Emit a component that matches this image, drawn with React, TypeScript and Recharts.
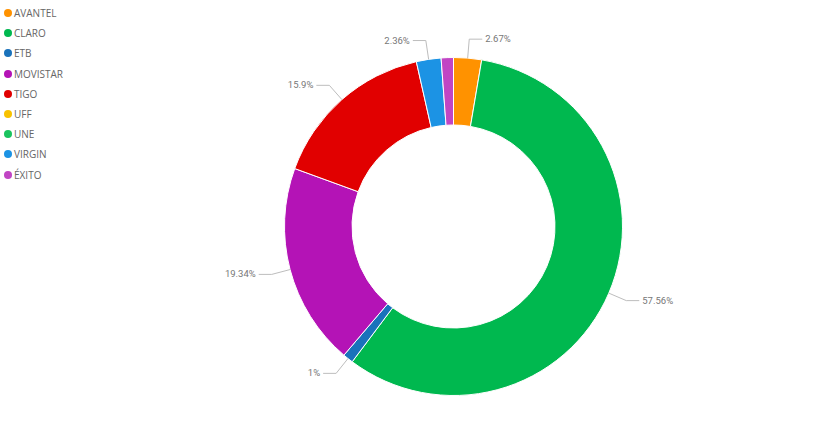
import { PieChart, Pie, Cell } from "recharts"

const OPERATORS = ["AVANTEL", "CLARO", "ETB", "MOVISTAR", "TIGO", "UFF", "UNE", "VIRGIN", "ÉXITO"]
const SHARES = [2.67, 57.56, 1, 19.34, 15.9, 0, 0, 2.36, 1.17]
const SHARE_LABELS = ["2.67%", "57.56%", "1%", "19.34%", "15.9%", "", "", "2.36%", ""]
const COLORS = ["#FF9200", "#00B84F", "#1A72BB", "#B413B6", "#E10000", "#F8C200", "#1AC35E", "#1C93E4", "#C145C4"]

const data = OPERATORS.map((name, i) => ({
  name,
  value: SHARES[i],
  label: SHARE_LABELS[i],
}))

const RAD = Math.PI / 180

function LeaderLabel(props: any) {
  const { cx, cy, midAngle, outerRadius, index } = props
  const text = SHARE_LABELS[index]
  if (!text) return null
  const cos = Math.cos(-midAngle * RAD)
  const sin = Math.sin(-midAngle * RAD)
  const x0 = cx + outerRadius * cos
  const y0 = cy + outerRadius * sin
  const x1 = cx + (outerRadius + 19) * cos
  const y1 = cy + (outerRadius + 19) * sin
  const right = cos >= 0
  const x2 = x1 + (right ? 13 : -13)
  return (
    <g>
      <polyline
        points={`${x0},${y0} ${x1},${y1} ${x2},${y1}`}
        fill="none"
        stroke="#bdbdbd"
        strokeWidth={1}
      />
      <text
        x={x2 + (right ? 3 : -3)}
        y={y1}
        dy={3}
        textAnchor={right ? "start" : "end"}
        fill="#777"
        fontSize={9.5}
        fontFamily="Roboto, sans-serif"
      >
        {text}
      </text>
    </g>
  )
}

function LegendList() {
  return (
    <div
      style={{
        position: "absolute",
        left: 0,
        top: 3,
        fontFamily: "'Open Sans', sans-serif",
        fontSize: 10,
        color: "#666",
      }}
    >
      {OPERATORS.map((name, i) => (
        <div
          key={name}
          style={{ display: "flex", alignItems: "center", height: 20.2, lineHeight: "20px" }}
        >
          <span
            style={{
              display: "inline-block",
              width: 8,
              height: 8,
              borderRadius: 4,
              background: COLORS[i],
              marginLeft: 4,
              marginRight: 2,
            }}
          />
          <span>{name}</span>
        </div>
      ))}
    </div>
  )
}

export default function App() {
  return (
    <div style={{ position: "absolute", left: 0, top: 0, width: 838, height: 421, background: "#fff" }}>
      <PieChart width={838} height={421} margin={{ top: 0, right: 0, bottom: 0, left: 0 }}>
        <Pie
          data={data}
          dataKey="value"
          nameKey="name"
          cx={453.5}
          cy={226.5}
          innerRadius={101.5}
          outerRadius={169}
          startAngle={90}
          endAngle={-270}
          stroke="#fff"
          strokeWidth={1}
          label={<LeaderLabel />}
          labelLine={false}
          isAnimationActive={false}
        >
          {data.map((d, i) => (
            <Cell key={d.name} fill={COLORS[i]} />
          ))}
        </Pie>
      </PieChart>
      <LegendList />
    </div>
  )
}
